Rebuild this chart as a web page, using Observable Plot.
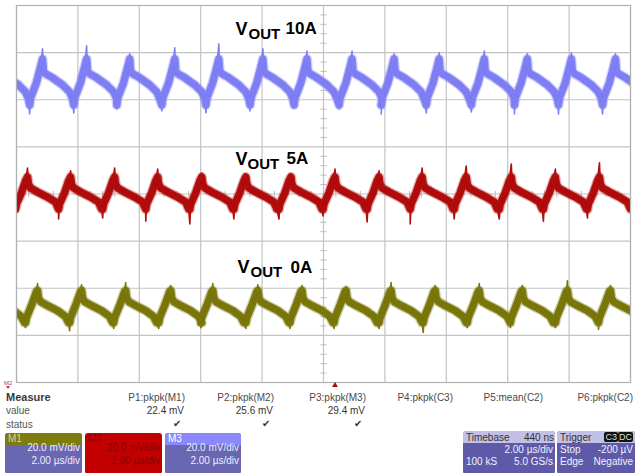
<!DOCTYPE html>
<html><head><meta charset="utf-8">
<script src="https://cdn.jsdelivr.net/npm/d3@7"></script>
<script src="https://cdn.jsdelivr.net/npm/@observablehq/plot@0.6"></script>
<style>
body{margin:0;background:#fff;font-family:"Liberation Sans",Arial,sans-serif;}
#wrap{position:relative;width:643px;height:473px;overflow:hidden;background:#fff}
#chart svg{display:block}
.t{position:absolute;font-size:10px;line-height:10px;color:#4a4a4a;white-space:nowrap}
.box{position:absolute;border-radius:3px;overflow:hidden;font-size:10px;line-height:10px;white-space:nowrap}
.box .hd{position:absolute;left:0;right:0;top:0;height:12px}
.box span{position:absolute}
g[aria-label="load"] text{letter-spacing:1.5px}
g[aria-label="sub"] text{letter-spacing:0.8px}
</style></head>
<body><div id="wrap"><div id="chart"></div></div>
<script>
// ---- scope settings ----
const timeGrid = [-10,-8,-6,-4,-2,0,2,4,6,8,10];          // µs, 2 µs/div
const voltGrid = [-80,-60,-40,-20,0,20,40,60,80];          // mV, 20 mV/div
const minorT = [-9.6,-9.2,-8.8,-8.4,-7.6,-7.2,-6.8,-6.4,-5.6,-5.2,-4.8,-4.4,-3.6,-3.2,-2.8,-2.4,-1.6,-1.2,-0.8,-0.4,0.4,0.8,1.2,1.6,2.4,2.8,3.2,3.6,4.4,4.8,5.2,5.6,6.4,6.8,7.2,7.6,8.4,8.8,9.2,9.6];
const minorV = [-76,-72,-68,-64,-56,-52,-48,-44,-36,-32,-28,-24,-16,-12,-8,-4,4,8,12,16,24,28,32,36,44,48,52,56,64,68,72,76];

// ---- M3 (VOUT 10A, blue) ----
const m3Offset = 48;
const m3ShapeDt = [-0.42,-0.39,-0.20,-0.065,0,0.03,0.10,0.33,0.65,0.88,0.98];
const m3ShapeMv = [-10.2,-7.2,-0.8,5.9,9.3,4.2,3.0,1.3,-1.7,-4.7,-7.6];
const m3PeakT  = [-10.587,-9.152,-7.716,-6.313,-4.845,-3.410,-1.974,-0.538,0.930,2.300,3.768,5.237,6.639,8.075,9.511];
const m3PeakMv = [13,13.6,14.9,11.5,14.0,15.7,13.6,12.7,12.7,11.5,11.9,12.7,11.5,11.9,11.5];
const m3TroughMv = [-13,-14.0,-13.6,-11.9,-12.7,-13.6,-12.7,-11.5,-11.9,-14.0,-13.6,-13.2,-14.0,-14.0,-14.0];

// ---- M2 (VOUT 5A, red) ----
const m2Offset = 0;
const m2ShapeDt = [-0.39,-0.36,-0.20,-0.065,0,0.03,0.10,0.33,0.65,0.91,1.01];
const m2ShapeMv = [-6.4,-4.2,0.4,5.5,7.2,4.2,2.5,0.8,-1.3,-3.4,-6.4];
const m2PeakT  = [-9.641,-8.238,-6.803,-5.400,-3.964,-2.529,-1.060,0.375,1.811,3.214,4.649,6.117,7.553,8.989,10.424];
const m2PeakMv = [11.0,9.8,11.0,10.6,8.9,8.5,8.5,10.6,9.8,11.0,11.9,12.7,10.6,13.2,10];
const m2TroughMv = [-10.6,-10.6,-10.2,-11.5,-12.7,-10.6,-10.6,-9.3,-11.9,-12.7,-10.6,-10.6,-11.5,-10.2,-10.6];

// ---- M1 (VOUT 0A, olive) ----
const m1Offset = -48;
const m1ShapeDt = [-0.39,-0.36,-0.20,-0.033,0,0.03,0.10,0.33,0.65,0.91,1.01];
const m1ShapeMv = [-6.6,-4.5,0.6,6.6,7.0,4.0,2.3,0.6,-1.5,-4.0,-6.6];
const m1PeakT  = [-10.750,-9.315,-7.879,-6.444,-4.976,-3.605,-2.137,-0.701,0.734,2.202,3.638,5.073,6.476,7.945,9.348];
const m1PeakMv = [9.5,10.0,9.5,10.4,9.1,10.0,9.5,9.1,8.7,10.4,9.1,10.0,9.1,11.2,9.1];
const m1TroughMv = [-9,-8.7,-10.0,-9.1,-9.1,-8.7,-9.1,-9.1,-9.1,-9.1,-10.8,-8.7,-8.7,-8.7,-9.5];

// ---- labels ----
const loads = ["10A","5A","0A"];
const measNames = ["P1:pkpk(M1)","P2:pkpk(M2)","P3:pkpk(M3)","P4:pkpk(C3)","P5:mean(C2)","P6:pkpk(C2)"];
const measValues = ["22.4 mV","25.6 mV","29.4 mV","","",""];

// annotation anchor positions (µs, mV)
const labelAt = [
  {v:[-2.866,67.3], s:[-2.443,65.6], l:[-1.238,67.7]},
  {v:[-2.866,12.1], s:[-2.476,10.8], l:[-1.205,12.9]},
  {v:[-2.801,-33.7], s:[-2.378,-35.4], l:[-1.075,-33.7]}
];

const channels = [
  {offset:m3Offset, dt:m3ShapeDt, mv:m3ShapeMv, peaks:m3PeakT, pk:m3PeakMv, tr:m3TroughMv, band:"#8181f5", core:"#6262e4"},
  {offset:m2Offset, dt:m2ShapeDt, mv:m2ShapeMv, peaks:m2PeakT, pk:m2PeakMv, tr:m2TroughMv, band:"#b30d0d", core:"#8e0000"},
  {offset:m1Offset, dt:m1ShapeDt, mv:m1ShapeMv, peaks:m1PeakT, pk:m1PeakMv, tr:m1TroughMv, band:"#7b790b", core:"#5f5d00"}
];
function build(ch){
  const band=[], fine=[];
  ch.peaks.forEach((p,i)=>{
    ch.dt.forEach((d,j)=>{
      band.push({t:p+d, v:ch.offset+ch.mv[j]});
      let v = ch.mv[j];
      if (j===0) v = ch.tr[i];
      if (j===4) v = ch.pk[i];
      fine.push({t:p+d, v:ch.offset+v});
    });
  });
  return {band, fine};
}

const marks = [
  Plot.ruleX(timeGrid, {stroke:"#c4c4c4", strokeWidth:1.2}),
  Plot.ruleY(voltGrid, {stroke:"#c4c4c4", strokeWidth:1.2}),
  Plot.link(minorT, {x1:d=>d, x2:d=>d, y1:()=>-1.3, y2:()=>1.3, stroke:"#bdbdbd"}),
  Plot.link(minorV, {x1:()=>-0.1, x2:()=>0.1, y1:d=>d, y2:d=>d, stroke:"#bdbdbd"}),
];
channels.forEach(ch=>{
  const {band, fine} = build(ch);
  marks.push(Plot.line(band, {x:"t", y:"v", stroke:ch.band, strokeWidth:10, strokeOpacity:0.35, strokeLinejoin:"round", clip:true}));
  marks.push(Plot.line(band, {x:"t", y:"v", stroke:ch.band, strokeWidth:7.5, strokeLinejoin:"round", clip:true}));
  marks.push(Plot.line(band, {x:"t", y:"v", stroke:ch.core, strokeWidth:3, strokeOpacity:0.3, strokeLinejoin:"round", clip:true}));
  marks.push(Plot.line(fine, {x:"t", y:"v", stroke:ch.band, strokeWidth:1.6, strokeLinejoin:"round", clip:true}));
});
marks.push(Plot.frame({stroke:"#b2b2b2", strokeWidth:1.2}));
const lab = labelAt.map((a,i)=>({a, load:loads[i]}));
marks.push(Plot.text(lab, {x:d=>d.a.v[0], y:d=>d.a.v[1], text:()=>"V", fontSize:18, fontWeight:"bold", fill:"#000", textAnchor:"start", lineAnchor:"bottom", fontFamily:"Liberation Sans, Arial, sans-serif"}));
marks.push(Plot.text(lab, {x:d=>d.a.s[0], y:d=>d.a.s[1], text:()=>"OUT", fontSize:15, fontWeight:"bold", fill:"#000", textAnchor:"start", lineAnchor:"bottom", ariaLabel:"sub", fontFamily:"Liberation Sans, Arial, sans-serif"}));
marks.push(Plot.text(lab, {x:d=>d.a.l[0], y:d=>d.a.l[1], text:"load", fontSize:17, fontWeight:"bold", fill:"#000", textAnchor:"start", lineAnchor:"bottom", ariaLabel:"load", fontFamily:"Liberation Sans, Arial, sans-serif"}));

const svg = Plot.plot({
  width:643, height:390,
  marginLeft:16, marginRight:13, marginTop:5, marginBottom:8,
  x:{domain:[-10,10], axis:null},
  y:{domain:[-80,80], axis:null},
  style:{background:"#fff"},
  marks
});
document.getElementById("chart").appendChild(svg);

// ---- bottom measurement panel (HTML) ----
const wrap = document.getElementById("wrap");
function txt(s, css){ const e=document.createElement("div"); e.className="t"; e.textContent=s; Object.assign(e.style, css); wrap.appendChild(e); return e; }
function tri(css){ const e=document.createElement("div"); Object.assign(e.style, {position:"absolute", width:"0", height:"0"}, css); wrap.appendChild(e); }
txt("M2", {left:"4px", top:"380px", fontSize:"6px", lineHeight:"6px", color:"#b04040"});
tri({left:"6px", top:"386px", borderLeft:"2.5px solid transparent", borderRight:"2.5px solid transparent", borderTop:"3px solid #b04040"});
tri({left:"332px", top:"382px", borderLeft:"3px solid transparent", borderRight:"3px solid transparent", borderBottom:"5px solid #a01010"});
txt("Measure", {left:"6px", top:"392px", fontSize:"11px", lineHeight:"11px", fontWeight:"bold", color:"#3a3a3a"});
txt("value", {left:"6px", top:"405.5px", color:"#555"});
txt("status", {left:"6px", top:"419.5px", color:"#555"});
const colRight = [185,274,366,453,543,633];
measNames.forEach((n,i)=>{
  txt(n, {right:(643-colRight[i])+"px", top:"392.5px"});
  if (measValues[i]) {
    txt(measValues[i], {right:(643-colRight[i]+1)+"px", top:"405.5px", color:"#333"});
    txt("✔", {right:(643-colRight[i]+4)+"px", top:"419px", color:"#333", fontSize:"10px"});
  }
});
function box(left, top, w, h, body, hdColor, lines){
  const b=document.createElement("div"); b.className="box";
  Object.assign(b.style,{left:left+"px", top:top+"px", width:w+"px", height:h+"px", background:body});
  if (hdColor){ const hd=document.createElement("div"); hd.className="hd"; hd.style.background=hdColor; b.appendChild(hd); }
  lines.forEach(l=>{ const s=document.createElement("span"); s.textContent=l.s; Object.assign(s.style,l.css); b.appendChild(s); });
  wrap.appendChild(b);
}
const chBody = "#6966b2";
box(5,433,77,41,chBody,"#7e7c0c",[
  {s:"M1", css:{left:"3px", top:"1px", color:"#d8d690"}},
  {s:"20.0 mV/div", css:{right:"2px", top:"10px", color:"#eeeeff"}},
  {s:"2.00 µs/div", css:{right:"2px", top:"23px", color:"#eeeeff"}}
]);
box(85,433,77,41,"#c20000",null,[
  {s:"M2", css:{left:"3px", top:"1px", color:"#8c0000"}},
  {s:"20.0 mV/div", css:{right:"2px", top:"10px", color:"#8c0000"}},
  {s:"2.00 µs/div", css:{right:"2px", top:"23px", color:"#8c0000"}}
]);
box(165,433,76,41,chBody,"#8a88fa",[
  {s:"M3", css:{left:"3px", top:"1px", color:"#ffffff"}},
  {s:"20.0 mV/div", css:{right:"2px", top:"10px", color:"#eeeeff"}},
  {s:"2.00 µs/div", css:{right:"2px", top:"23px", color:"#eeeeff"}}
]);
box(463,431,92,43,"#5e5aa8","#c2c0e6",[
  {s:"Timebase", css:{left:"3px", top:"2px", color:"#333"}},
  {s:"440 ns", css:{right:"1px", top:"2px", color:"#333"}},
  {s:"2.00 µs/div", css:{right:"2px", top:"14px", color:"#f0f0ff"}},
  {s:"100 kS", css:{left:"3px", top:"26px", color:"#f0f0ff"}},
  {s:"5.0 GS/s", css:{right:"2px", top:"26px", color:"#f0f0ff"}}
]);
box(557,431,78,43,"#5e5aa8","#c2c0e6",[
  {s:"Trigger", css:{left:"3px", top:"2px", color:"#333"}},
  {s:"C3", css:{right:"17px", top:"1px", color:"#ddd", background:"#111", padding:"0 1px", borderRadius:"2px", fontSize:"9px"}},
  {s:"DC", css:{right:"2px", top:"1px", color:"#ddd", background:"#111", padding:"0 1px", borderRadius:"2px", fontSize:"9px"}},
  {s:"Stop", css:{left:"3px", top:"14px", color:"#f0f0ff"}},
  {s:"-200 µV", css:{right:"2px", top:"14px", color:"#f0f0ff"}},
  {s:"Edge", css:{left:"3px", top:"26px", color:"#f0f0ff"}},
  {s:"Negative", css:{right:"2px", top:"26px", color:"#f0f0ff"}}
]);
</script></body></html>
